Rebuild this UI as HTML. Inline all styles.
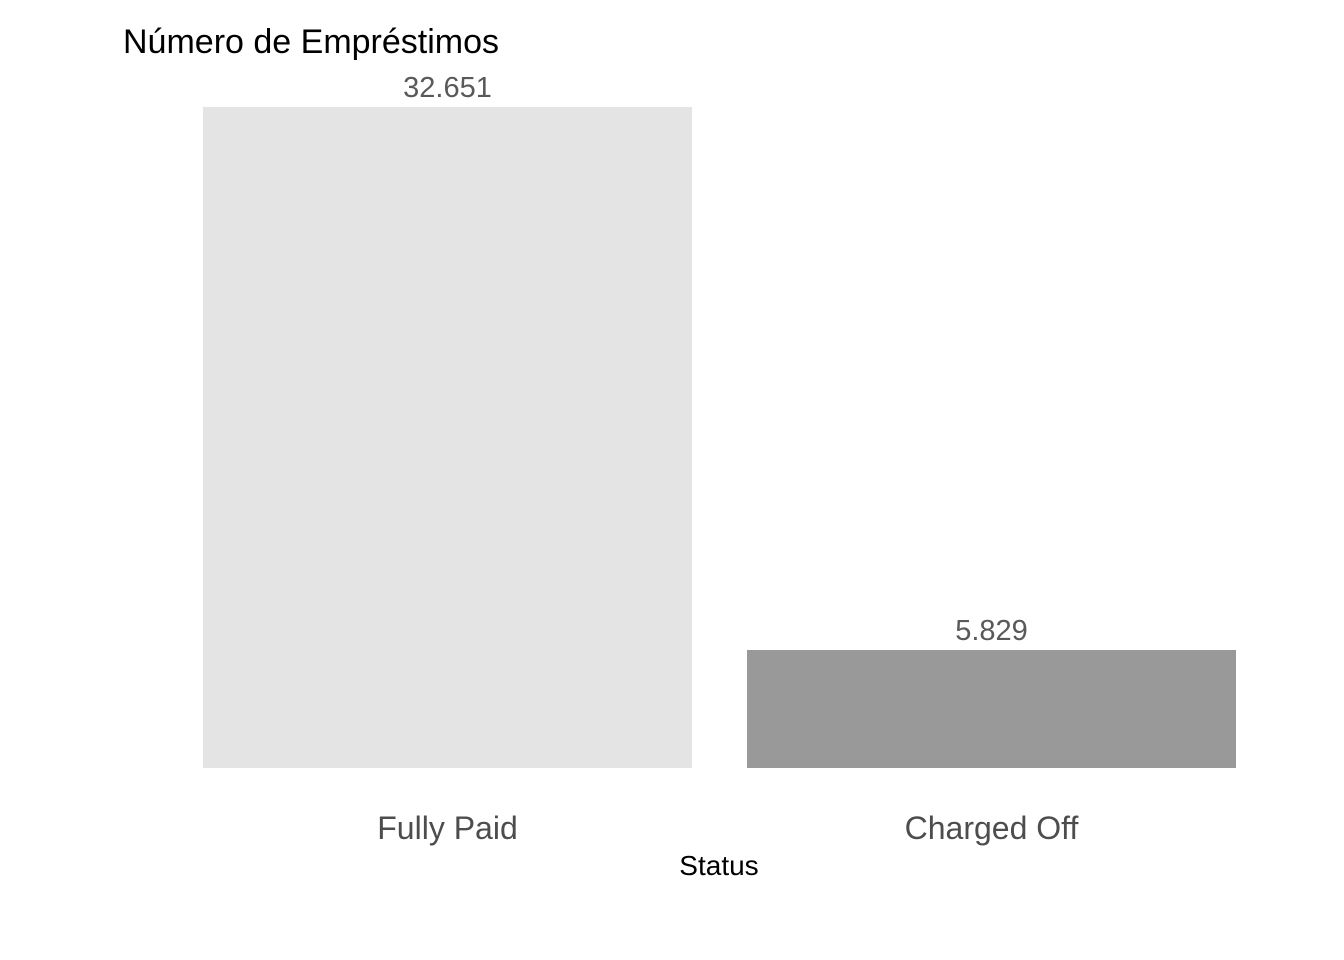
<!DOCTYPE html>
<html><head><meta charset="utf-8"><style>
html,body{margin:0;padding:0;background:#fff;}
svg{display:block;font-family:"Liberation Sans",Arial,sans-serif;}
</style></head><body>
<svg width="1344" height="960" viewBox="0 0 1344 960">
<text x="123" y="53" font-size="34" fill="#000">Número de Empréstimos</text>
<g id="bars"></g>
<text x="719" y="875" font-size="28" text-anchor="middle" fill="#000">Status</text>
</svg>
<script>
const categories = ["Fully Paid", "Charged Off"];
const values = [32651, 5829];
const labels = ["32.651", "5.829"];
const colors = ["#e4e4e4", "#999999"];
const NS = "http://www.w3.org/2000/svg";
const y0 = 768, yTop = 107, maxV = 32651;
function yScale(v){ return y0 - v / maxV * (y0 - yTop); }
const left = 203, step = 544, bw = 489;
function xScale(i){ return left + i * step; }
const g = document.getElementById("bars");
categories.forEach((c, i) => {
  const x = xScale(i), y = yScale(values[i]);
  const r = document.createElementNS(NS, "rect");
  r.setAttribute("x", x); r.setAttribute("y", y);
  r.setAttribute("width", bw); r.setAttribute("height", y0 - y);
  r.setAttribute("fill", colors[i]);
  
  
  g.appendChild(r);
  const t = document.createElementNS(NS, "text");
  t.setAttribute("x", x + bw / 2); t.setAttribute("y", y - 10);
  t.setAttribute("font-size", "29"); t.setAttribute("text-anchor", "middle");
  t.setAttribute("fill", "#595959");
  t.textContent = labels[i];
  
  
  g.appendChild(t);
  const l = document.createElementNS(NS, "text");
  l.setAttribute("x", x + bw / 2); l.setAttribute("y", 839);
  l.setAttribute("font-size", "32"); l.setAttribute("text-anchor", "middle");
  l.setAttribute("fill", "#4d4d4d");
  l.textContent = c;
  
  
  g.appendChild(l);
});
</script>
</body></html>
